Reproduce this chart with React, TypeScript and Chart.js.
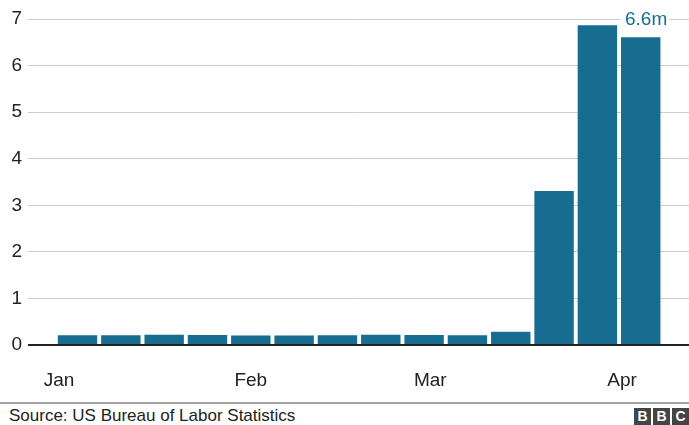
import React, { useEffect, useRef } from 'react';
import { Chart, registerables } from 'chart.js';

Chart.register(...registerables);

// Weekly US initial jobless claims (week ending), in millions
const weekEnding = [
  '2020-01-04', '2020-01-11', '2020-01-18', '2020-01-25',
  '2020-02-01', '2020-02-08', '2020-02-15', '2020-02-22', '2020-02-29',
  '2020-03-07', '2020-03-14', '2020-03-21', '2020-03-28', '2020-04-04',
];
const claimsMillions = [
  0.212, 0.207, 0.22, 0.216,
  0.203, 0.205, 0.211, 0.219, 0.217,
  0.211, 0.282, 3.307, 6.867, 6.606,
];
const monthLabels = ['Jan', 'Feb', 'Mar', 'Apr'];
const monthStarts = ['2020-01-01', '2020-02-01', '2020-03-01', '2020-04-01'];
const yTickValues = [0, 1, 2, 3, 4, 5, 6, 7];
const sourceText = 'Source: US Bureau of Labor Statistics';
const logoLetters = ['B', 'B', 'C'];

const ORIGIN = '2020-01-01';
const dayOf = (s: string) => Math.round((Date.parse(s) - Date.parse(ORIGIN)) / 86400000);

const BAR_COLOR = '#176d8f';
const FONT = "'Liberation Sans', Arial, Helvetica, sans-serif";

const lastLabelPlugin = {
  id: 'lastLabel',
  afterDatasetsDraw(chart: any) {
    const meta = chart.getDatasetMeta(0);
    const bar = meta.data[meta.data.length - 1];
    if (!bar) return;
    const value = claimsMillions[claimsMillions.length - 1];
    const text = value.toFixed(1) + 'm';
    const ctx = chart.ctx;
    ctx.save();
    ctx.font = `19px ${FONT}`;
    const w = ctx.measureText(text).width;
    const left = bar.x - bar.width / 2 + 4;
    const y = chart.scales.y.getPixelForValue(yTickValues[yTickValues.length - 1]);
    ctx.fillStyle = '#ffffff';
    ctx.fillRect(left - 5, y - 3, w + 7, 6);
    ctx.fillStyle = BAR_COLOR;
    ctx.textAlign = 'left';
    ctx.textBaseline = 'middle';
    ctx.fillText(text, left, y + 1);
    ctx.restore();
  },
};

export default function App() {
  const canvasRef = useRef<HTMLCanvasElement | null>(null);

  useEffect(() => {
    document.body.style.margin = '0';
    const canvas = canvasRef.current;
    if (!canvas) return;
    const monthDays = monthStarts.map(dayOf);
    const chart = new Chart(canvas, {
      type: 'bar',
      data: {
        datasets: [
          {
            label: 'Initial claims (m)',
            data: weekEnding.map((d, i) => ({ x: dayOf(d), y: claimsMillions[i] })),
            backgroundColor: BAR_COLOR,
            borderWidth: 0,
            categoryPercentage: 1,
            barPercentage: 0.91,
          },
        ],
      },
      options: {
        responsive: false,
        animation: false,
        devicePixelRatio: 1,
        layout: { padding: { top: 19, left: 0, right: 0, bottom: 0 } },
        plugins: {
          legend: { display: false },
          tooltip: { enabled: false },
        },
        scales: {
          x: {
            type: 'linear',
            offset: false,
            bounds: 'data',
            min: -5,
            max: 101.8,
            grid: { display: false, drawTicks: false },
            border: { display: false },
            afterBuildTicks: (axis: any) => {
              axis.ticks = monthDays.map((v) => ({ value: v }));
            },
            afterFit: (axis: any) => {
              axis.height = 57;
            },
            ticks: {
              autoSkip: false,
              maxRotation: 0,
              padding: 24,
              color: '#222',
              font: { family: FONT, size: 19 },
              callback: (value: any) => {
                const i = monthDays.indexOf(Number(value));
                return i >= 0 ? monthLabels[i] : '';
              },
            },
          },
          y: {
            min: yTickValues[0],
            max: yTickValues[yTickValues.length - 1],
            afterBuildTicks: (axis: any) => {
              axis.ticks = yTickValues.map((v) => ({ value: v }));
            },
            afterFit: (axis: any) => {
              axis.width = 28;
            },
            border: { display: false },
            grid: {
              drawTicks: false,
              color: (c: any) => (c.tick && c.tick.value === 0 ? '#222222' : '#cccccc'),
              lineWidth: (c: any) => (c.tick && c.tick.value === 0 ? 2 : 1),
            },
            ticks: {
              padding: 6,
              color: '#222',
              font: { family: FONT, size: 19 },
            },
          },
        },
      },
      plugins: [lastLabelPlugin],
    } as any);
    return () => chart.destroy();
  }, []);

  return (
    <div style={{ position: 'relative', width: 689, height: 425, overflow: 'hidden', background: '#fff', fontFamily: FONT }}>
      <canvas ref={canvasRef} width={689} height={402} style={{ display: 'block', width: 689, height: 402 }} />
      <div style={{ position: 'absolute', left: 0, top: 402, width: 689, height: 2, background: '#a3a3a3' }} />
      <div style={{ position: 'absolute', left: 9, top: 405, height: 21, lineHeight: '21px', fontSize: 17, color: '#222', whiteSpace: 'nowrap' }}>
        {sourceText}
      </div>
      <div style={{ position: 'absolute', right: 0, top: 408, height: 17, display: 'flex' }}>
        {logoLetters.map((l, i) => (
          <span
            key={i}
            style={{
              display: 'inline-block',
              width: 17,
              height: 17,
              marginLeft: i === 0 ? 0 : 2,
              background: '#444',
              color: '#fff',
              fontWeight: 'bold',
              fontSize: 14,
              lineHeight: '17px',
              textAlign: 'center',
            }}
          >
            {l}
          </span>
        ))}
      </div>
    </div>
  );
}
